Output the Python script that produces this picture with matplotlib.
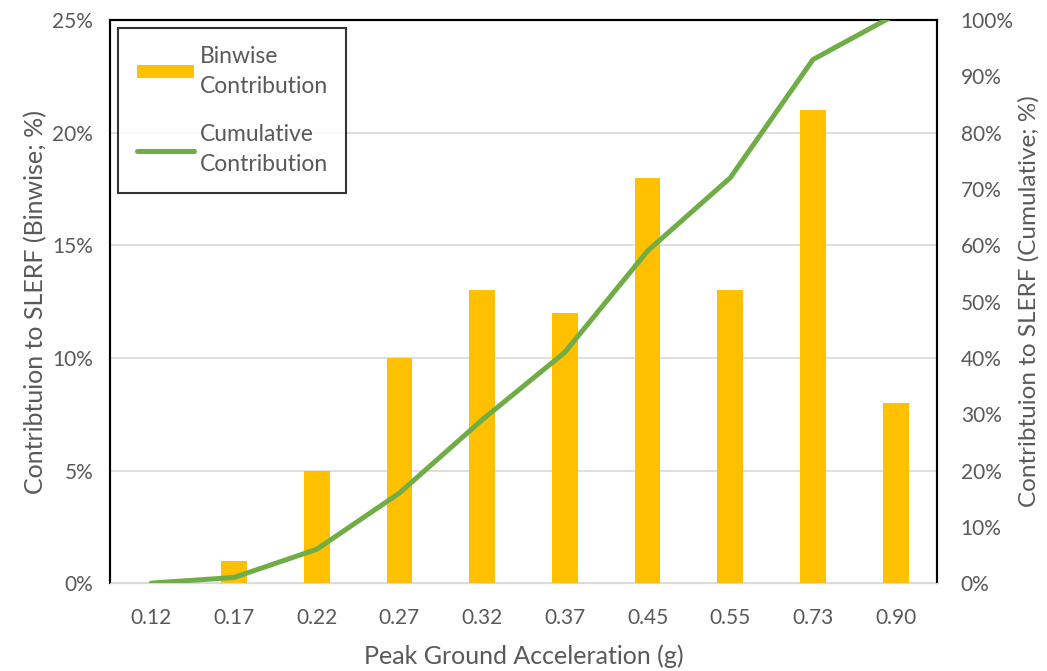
import numpy as np
import matplotlib.pyplot as plt
from matplotlib.patches import Patch
from matplotlib.lines import Line2D
from matplotlib.ticker import PercentFormatter

plt.rcParams['font.family'] = ['Lato', 'DejaVu Sans']

# binwise and cumulative contribution to SLERF by PGA bin
pga = ["0.12", "0.17", "0.22", "0.27", "0.32", "0.37", "0.45", "0.55", "0.73", "0.90"]
binwise = [0, 1, 5, 10, 13, 12, 18, 13, 21, 8]
cumulative = [0, 1, 6, 16, 29, 41, 59, 72, 93, 101]

bar_col = "#FFC000"
line_col = "#70AD47"
txt = "#595959"

fig = plt.figure(figsize=(10.47, 6.71), dpi=100)
ax = fig.add_axes([0.105, 0.131, 0.79, 0.839])
x = np.arange(len(pga))

ax.bar(x, binwise, width=0.31, color=bar_col, zorder=2)
ax.set_ylim(0, 25)
ax.set_xlim(-0.5, len(pga) - 0.5)
ax.set_yticks(np.arange(0, 26, 5))
ax.yaxis.set_major_formatter(PercentFormatter(decimals=0))
ax.set_xticks(x)
ax.set_xticklabels(pga)
ax.grid(axis='y', color="#D9D9D9", linewidth=1.2, zorder=0)
ax.set_axisbelow(True)
ax.tick_params(axis='x', length=0, labelsize=15, colors=txt, pad=18)
ax.tick_params(axis='y', length=0, labelsize=15, colors=txt, pad=12)
ax.set_xlabel("Peak Ground Acceleration (g)", fontsize=18, color=txt, labelpad=12)
ax.set_ylabel("Contribtuion to SLERF (Binwise; %)", fontsize=18, color=txt, labelpad=4)

ax2 = ax.twinx()
ax2.plot(x, cumulative, color=line_col, linewidth=3.6, solid_capstyle='round', zorder=3)
ax2.set_ylim(0, 100)
ax2.set_yticks(np.arange(0, 101, 10))
ax2.yaxis.set_major_formatter(PercentFormatter(decimals=0))
ax2.tick_params(length=0, labelsize=15, colors=txt, pad=17)
ax2.set_ylabel("Contribtuion to SLERF (Cumulative; %)", fontsize=17.5, color=txt, labelpad=3)

for a in (ax, ax2):
    for side in ("left", "right", "top"):
        a.spines[side].set_color("black")
        a.spines[side].set_linewidth(1.5)
    a.spines["bottom"].set_color("#D9D9D9")

handles = [Patch(facecolor=bar_col, edgecolor='none'),
           Line2D([0], [0], color=line_col, linewidth=3.6, solid_capstyle='round')]
leg = ax2.legend(handles, ["Binwise\nContribution", "Cumulative\nContribution"],
                 loc="upper left", bbox_to_anchor=(0.01, 0.986), fontsize=16.5,
                 frameon=True, fancybox=False, borderpad=0.8, labelspacing=1.2,
                 handlelength=2.5, handleheight=0.5, handletextpad=0.25,
                 borderaxespad=0)
leg.get_frame().set_edgecolor("black")
leg.get_frame().set_linewidth(1.5)
for t in leg.get_texts():
    t.set_color(txt)
    t.set_linespacing(1.5)

fig.savefig("out.png", dpi=100)
